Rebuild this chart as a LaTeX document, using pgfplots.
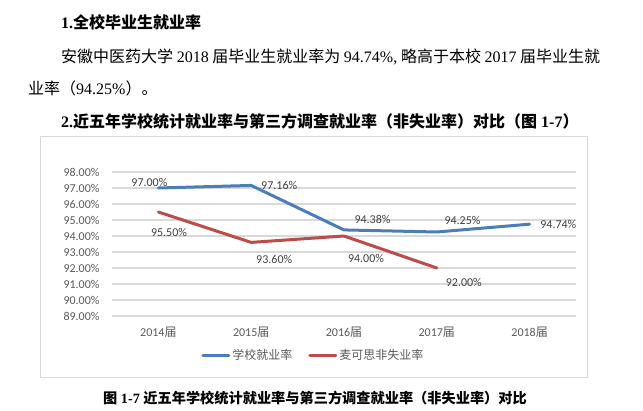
\documentclass[border=0pt]{standalone}
\usepackage{pgfplots}
\pgfplotsset{compat=1.18}
\usepackage{pgfplotstable}
\usepackage{fontspec}
\setmainfont{Liberation Serif}
\newfontfamily\cjk{Noto Sans CJK SC}
\newfontfamily\carl{Carlito}
\definecolor{lblue}{HTML}{4A7EBB}
\definecolor{lred}{HTML}{BE4B48}
\definecolor{gridc}{HTML}{D9D9D9}
\definecolor{tickc}{HTML}{595959}
\definecolor{labc}{HTML}{404040}
\newcommand\fs[1]{\fontsize{#1}{#1}\selectfont}

\pgfplotstableread{
x y dx dy
0 97.00 -9 6
1 97.16 28 0
2 94.38 28.5 10.6
3 94.25 25.7 12
4 94.74 28.7 0
}\school
\pgfplotstableread{
x y dx dy
0 95.50 10.6 -20.7
1 93.60 23 -16.6
2 94.00 22 -22.3
3 92.00 27 -14.3
}\mycos

\begin{document}
\begin{tikzpicture}[x=1pt,y=1pt]
\path (0,0) rectangle (643,411);
% document text
\node[anchor=base west, inner sep=0] at (61,382) {\fs{16}\bfseries 1.{\cjk 全校毕业生就业率}};
\node[anchor=base west, inner sep=0] at (61,348) {\fs{16}\makebox[539pt][s]{{\cjk 安徽中医药大学} 2018 {\cjk 届毕业生就业率为} 94.74\%, {\cjk 略高于本校} 2017 {\cjk 届毕业生就}}};
\node[anchor=base west, inner sep=0] at (28,316) {\fs{16}{\cjk 业率（}94.25\%{\cjk ）。}};
\node[anchor=base west, inner sep=0] at (61,283) {\fs{16}\bfseries 2.{\cjk 近五年学校统计就业率与第三方调查就业率（非失业率）对比（图} 1-7{\cjk ）}};
% chart frame
\draw[gridc, line width=1pt] (40,33) rectangle (587,274);
\begin{axis}[
  at={(112pt,95pt)}, anchor=south west,
  scale only axis, width=464pt, height=144pt,
  xmin=-0.5, xmax=4.5, ymin=89, ymax=98,
  xtick={0,1,2,3,4},
  xticklabels={{2014{\cjk 届}},{2015{\cjk 届}},{2016{\cjk 届}},{2017{\cjk 届}},{2018{\cjk 届}}},
  ytick={89,90,91,92,93,94,95,96,97,98},
  yticklabels={89.00\%,90.00\%,91.00\%,92.00\%,93.00\%,94.00\%,95.00\%,96.00\%,97.00\%,98.00\%},
  ymajorgrids, grid style={gridc, line width=1.3pt},
  axis line style={draw=none}, major tick length=0pt,
  tick label style={font=\carl\fs{12}, text=tickc},
  yticklabel style={anchor=east, xshift=-9pt},
  xticklabel style={anchor=center, yshift=-16pt},
  clip=false,
  legend columns=2,
  legend style={at={(0.434,-0.271)}, anchor=center, draw=none, fill=none,
     font=\cjk\fs{12}, text=tickc,
     /tikz/every even column/.append style={column sep=14pt}},
  legend image code/.code={\draw[#1, line width=3pt] (0pt,0pt) -- (26pt,0pt);},
  nodes near coords={\pgfmathprintnumber[fixed,fixed zerofill,precision=2,assume math mode=true]{\pgfplotspointmeta}\%},
  point meta=y,
  visualization depends on={\thisrow{dx} \as \dx},
  visualization depends on={\thisrow{dy} \as \dy},
  every node near coord/.append style={font=\carl\fs{12}, text=labc, anchor=center, xshift=\dx pt, yshift=\dy pt},
]
\addplot[lblue, line width=3pt, line cap=round, line join=round, mark=none] table[x=x,y=y] {\school};
\addplot[lred, line width=3pt, line cap=round, line join=round, mark=none] table[x=x,y=y] {\mycos};
\legend{学校就业率,麦可思非失业率}
\end{axis}
% caption
\node[anchor=base, inner sep=0] at (315,7.7) {\fs{14.2}\bfseries{\cjk 图} 1-7 {\cjk 近五年学校统计就业率与第三方调查就业率（非失业率）对比}};
\end{tikzpicture}
\end{document}
